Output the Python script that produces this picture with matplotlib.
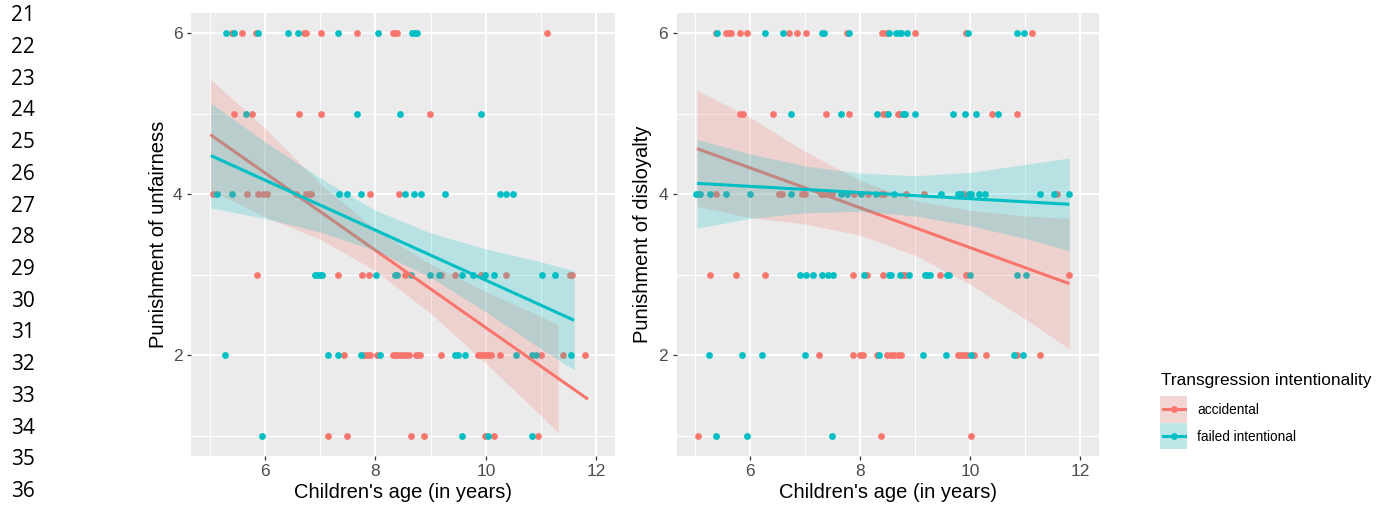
import numpy as np
import matplotlib.pyplot as plt
from matplotlib.patches import Rectangle

RED = '#F8766D'
TEAL = '#00BFC4'
W, H = 1380, 508

# ---- data: {score: [ages]} ----
fair_acc = {
    6: [5.40, 5.59, 5.84, 6.71, 6.74, 7.02, 7.66, 8.32, 8.36, 8.39, 11.11],
    5: [5.43, 5.76, 6.61, 7.02, 8.98],
    4: [5.05, 5.67, 5.88, 5.96, 6.04, 6.56, 6.74, 6.80, 6.84, 7.90, 8.43],
    3: [5.85, 7.32, 7.75, 7.89, 8.53, 9.19, 9.45, 9.92, 10.37, 11.53, 11.56],
    2: [7.43, 7.79, 7.84, 7.90, 8.03, 8.31, 8.35, 8.39, 8.44, 8.50, 8.56, 8.61,
        8.73, 8.77, 8.81, 9.18, 9.86, 9.90, 9.95, 10.00, 10.04, 10.09, 10.25,
        11.00, 11.39, 11.79],
    1: [7.15, 7.48, 8.65, 8.88, 9.98, 10.14, 10.94],
}
fair_fail = {
    6: [5.29, 5.44, 5.88, 6.42, 6.60, 7.33, 8.04, 8.66, 8.71, 8.75],
    5: [5.66, 7.66, 8.44, 9.92],
    4: [5.13, 5.40, 7.34, 7.48, 7.74, 8.53, 8.70, 8.82, 9.26, 10.26, 10.37, 10.50],
    3: [6.90, 6.95, 6.99, 7.04, 8.02, 8.35, 8.39, 8.65, 8.98, 9.15, 9.57, 9.77,
        9.99, 10.15, 11.01, 11.26],
    2: [5.28, 7.15, 7.32, 7.74, 8.09, 9.45, 9.50, 9.62, 10.55, 10.84, 10.91, 11.55],
    1: [5.95, 9.57, 10.04, 10.83],
}
loy_acc = {
    6: [5.38, 5.56, 5.61, 5.65, 5.82, 5.94, 6.70, 6.84, 7.02, 7.75, 8.39, 8.46,
        8.51, 8.99, 9.93, 11.13],
    5: [5.82, 5.87, 6.41, 7.38, 7.80, 8.42, 8.46, 8.68, 8.72, 10.39, 10.85],
    4: [5.37, 6.52, 6.58, 6.94, 6.99, 7.28, 7.32, 7.37, 7.43, 7.48, 7.89, 8.13,
        8.37, 8.43, 8.83, 9.16, 9.89, 11.57],
    3: [5.26, 5.73, 6.26, 7.87, 8.12, 8.42, 8.77, 8.81, 9.45, 9.92, 11.80],
    2: [7.24, 7.87, 8.00, 8.04, 8.31, 8.49, 8.55, 8.62, 8.68, 8.74, 9.77, 9.83,
        9.89, 9.94, 10.07, 10.29, 10.85, 11.27],
    1: [5.05, 8.37, 10.01],
}
loy_fail = {
    6: [5.40, 6.27, 6.59, 7.31, 7.34, 7.80, 8.53, 8.65, 8.71, 8.74, 8.84, 9.95,
        10.85, 10.97],
    5: [6.74, 7.65, 8.31, 8.51, 8.77, 8.81, 8.99, 9.69, 9.90, 10.10, 10.51],
    4: [5.01, 5.06, 5.09, 5.26, 5.56, 6.00, 6.73, 7.64, 7.76, 8.01, 8.28, 8.62,
        9.47, 9.77, 9.83, 9.98, 10.01, 10.16, 10.27, 11.27, 11.53, 11.80],
    3: [6.90, 7.01, 7.14, 7.30, 7.42, 7.50, 8.07, 8.52, 8.55, 8.72, 8.88, 9.18,
        9.22, 9.27, 9.58, 9.62, 9.99, 10.85, 11.02],
    2: [5.24, 5.85, 6.22, 6.99, 8.34, 9.14, 9.56, 10.01, 10.80, 10.95],
    1: [5.38, 5.94, 7.48],
}

# fitted lines (end points) and confidence bands
fair_acc_line = ([5.01, 11.85], [4.74, 1.455])
fair_acc_bx = [5.01, 6, 7, 8, 9, 10, 11, 11.31]
fair_acc_lo = [4.05, 3.72, 3.44, 3.05, 2.52, 1.90, 1.25, 1.04]
fair_acc_hi = [5.43, 4.82, 4.13, 3.56, 3.13, 2.79, 2.48, 2.38]

fair_fail_line = ([5.02, 11.60], [4.48, 2.435])
fair_fail_bx = [5.02, 6, 7, 8, 9, 10, 11, 11.6]
fair_fail_lo = [3.83, 3.70, 3.53, 3.30, 2.97, 2.54, 2.08, 1.82]
fair_fail_hi = [5.13, 4.65, 4.20, 3.80, 3.52, 3.32, 3.16, 3.05]

loy_acc_line = ([5.03, 11.80], [4.566, 2.89])
loy_acc_bx = [5.03, 6, 7, 8, 9, 10, 11, 11.8]
loy_acc_lo = [3.85, 3.71, 3.63, 3.49, 3.24, 2.88, 2.45, 2.08]
loy_acc_hi = [5.29, 4.95, 4.53, 4.17, 3.92, 3.80, 3.73, 3.70]

loy_fail_line = ([5.03, 11.80], [4.135, 3.875])
loy_fail_bx = [5.03, 6, 7, 8, 9, 10, 11, 11.8]
loy_fail_lo = [3.58, 3.70, 3.77, 3.79, 3.73, 3.61, 3.45, 3.30]
loy_fail_hi = [4.68, 4.50, 4.35, 4.26, 4.23, 4.27, 4.37, 4.45]

groups = ['accidental', 'failed intentional']
legend_title = 'Transgression intentionality'
x_title = "Children's age (in years)"
line_numbers = list(range(21, 37))

plt.rcParams['font.family'] = ['Liberation Sans', 'DejaVu Sans']
fig = plt.figure(figsize=(W / 100, H / 100), dpi=100)


def px(x):
    return x / W


def py(y):
    return 1 - y / H


def flat(rows):
    xs = [a for s in rows for a in rows[s]]
    ys = [s for s in rows for a in rows[s]]
    return xs, ys


def panel(left, right, acc, fail, acc_fit, fail_fit, ylab, ylab_x):
    ax = fig.add_axes([px(left), py(456), px(right - left), (456 - 13) / H])
    ax.set_facecolor('#EBEBEB')
    for s in ax.spines.values():
        s.set_visible(False)
    for rows, col in [(acc, RED), (fail, TEAL)]:
        xs, ys = flat(rows)
        ax.scatter(xs, ys, s=24, color=col, linewidths=0, zorder=2)
    z = 3
    for (line, bx, lo, hi), col in [(acc_fit, RED), (fail_fit, TEAL)]:
        ax.fill_between(bx, lo, hi, color=col, alpha=0.22, lw=0, zorder=z)
        ax.plot(line[0], line[1], color=col, lw=2.2, zorder=z + 1,
                solid_capstyle='butt')
        z += 2
    ax.set_xlim(4.66, 12.34)
    ax.set_ylim(0.75, 6.25)
    ax.set_xticks([6, 8, 10, 12])
    ax.set_yticks([2, 4, 6])
    ax.set_xticks([5, 7, 9, 11], minor=True)
    ax.set_yticks([1, 3, 5], minor=True)
    ax.set_axisbelow(True)
    ax.grid(which='major', color='white', lw=1.4)
    ax.grid(which='minor', color='white', lw=0.7)
    ax.tick_params(which='major', length=2.9, width=0.9, color='#333333',
                   labelcolor='#4D4D4D', labelsize=12.5, pad=3.2)
    ax.tick_params(which='minor', length=0)
    fig.text(px((left + right) / 2), py(493), x_title, fontsize=14.5,
             ha='center', va='center')
    fig.text(px(ylab_x), py(234.5), ylab, fontsize=14.5, rotation=90,
             ha='center', va='center')
    return ax


panel(191, 615, fair_acc, fair_fail,
      (fair_acc_line, fair_acc_bx, fair_acc_lo, fair_acc_hi),
      (fair_fail_line, fair_fail_bx, fair_fail_lo, fair_fail_hi),
      'Punishment of unfairness', 158)
panel(676.7, 1099, loy_acc, loy_fail,
      (loy_acc_line, loy_acc_bx, loy_acc_lo, loy_acc_hi),
      (loy_fail_line, loy_fail_bx, loy_fail_lo, loy_fail_hi),
      'Punishment of disloyalty', 642)

# legend
lax = fig.add_axes([px(1160), py(449.3), px(27.3), (449.3 - 396) / H])
lax.set_xlim(0, 1)
lax.set_ylim(0, 2)
lax.axis('off')
for i, col in enumerate([RED, TEAL]):
    y0 = 1 - i
    lax.add_patch(Rectangle((0, y0), 1, 1, color='#F2F2F2', lw=0))
    lax.add_patch(Rectangle((0, y0), 1, 1, color=col, alpha=0.22, lw=0))
    lax.plot([0.1, 0.9], [y0 + 0.5, y0 + 0.5], color=col, lw=2.2)
    lax.scatter([0.5], [y0 + 0.5], s=24, color=col, linewidths=0)
fig.text(px(1161), py(380), legend_title, fontsize=12.4, ha='left', va='center')
fig.text(px(1197), py(410), groups[0], fontsize=9.8, ha='left', va='center')
fig.text(px(1197), py(437), groups[1], fontsize=9.8, ha='left', va='center')

# document line numbers at the left
for i, n in enumerate(line_numbers):
    fig.text(px(11), py(15.7 + 31.73 * i), str(n), fontsize=15,
             family='Open Sans', ha='left', va='center')

fig.savefig('out.png', dpi=100)
